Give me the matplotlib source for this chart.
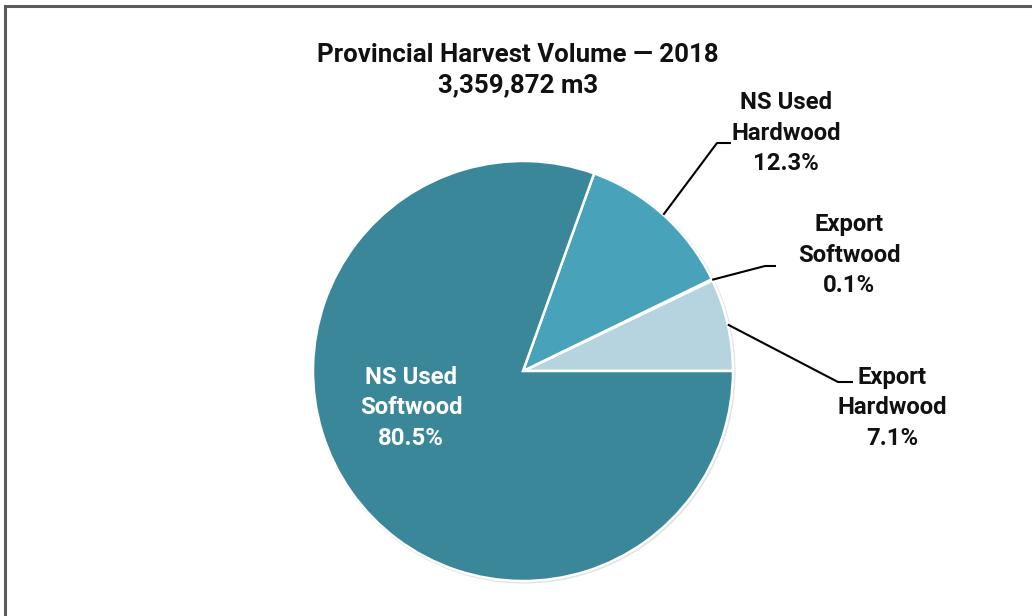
import numpy as np
import matplotlib
matplotlib.use("Agg")
import matplotlib.pyplot as plt
from matplotlib.patches import Rectangle, Circle

# ---- data ----
categories = ["Export\nHardwood", "Export\nSoftwood", "NS Used\nHardwood", "NS Used\nSoftwood"]
shares = [7.1, 0.1, 12.3, 80.5]
colors = ["#B6D4DF", "#D9E8EE", "#48A3BA", "#3A8799"]
title_lines = ["Provincial Harvest Volume \u2014 2018", "3,359,872 m3"]

W, H = 1032, 616
fig = plt.figure(figsize=(W / 100, H / 100), dpi=100)
ax = fig.add_axes([0, 0, 1, 1])

plt.rcParams["font.family"] = ["Roboto", "DejaVu Sans"]
FS = 17.2
TFS = 18.6

def py(y):  # pixel-from-top to data y
    return H - y

cx, cy, R = 523, py(371), 210

# border frame
ax.add_patch(Rectangle((5, py(H + 20)), W + 20, (H + 20) - 6, fill=False,
                       edgecolor="#5a5a5a", lw=2.2, zorder=0))

# soft shadow
ax.add_patch(Circle((cx + 1, cy - 1), R + 1.5, color="#cfcfcf", alpha=0.6, zorder=1, lw=0))

wedges, _ = ax.pie(shares, colors=colors, startangle=0, counterclock=True,
                   center=(cx, cy), radius=R, frame=True,
                   wedgeprops=dict(edgecolor="white", linewidth=1.8))
for w in wedges:
    w.set_zorder(2)
ax.set_xlim(0, W)
ax.set_ylim(0, H)
ax.set_aspect("equal")
ax.axis("off")

# mid angles
cum = np.cumsum([0] + shares)
mids = [(cum[i] + cum[i + 1]) / 2 * 3.6 for i in range(len(shares))]

def edge_pt(i):
    a = np.deg2rad(mids[i])
    return cx + R * np.cos(a), cy + R * np.sin(a)

def fmt(i):
    return f"{categories[i]}\n{shares[i]:.1f}%"

# leader lines + labels (outside): (elbow, end, label centre) in pixels
leaders = {
    0: ((838, 382), (853, 382), (892, 408)),
    1: ((765, 266), (776, 266), (849, 255)),
    2: ((717, 143), (731, 143), (786, 133)),
}
for i, (elbow, end, lab) in leaders.items():
    x0, y0 = edge_pt(i)
    ax.plot([x0, elbow[0], end[0]], [y0, py(elbow[1]), py(end[1])],
            color="black", lw=1.5, zorder=3, solid_capstyle="butt")
    ax.text(lab[0], py(lab[1]), fmt(i), ha="center", va="center",
            fontsize=FS, fontweight="bold", color="#111111", linespacing=1.4, zorder=4)

# inside label
ax.text(411, py(408), fmt(3), ha="center", va="center", fontsize=FS,
        fontweight="bold", color="white", linespacing=1.4, zorder=4)

# title
ax.text(518, py(70), "\n".join(title_lines), ha="center", va="center",
        fontsize=TFS, fontweight="bold", color="#111111", linespacing=1.3)

fig.savefig("out.png", dpi=100)
